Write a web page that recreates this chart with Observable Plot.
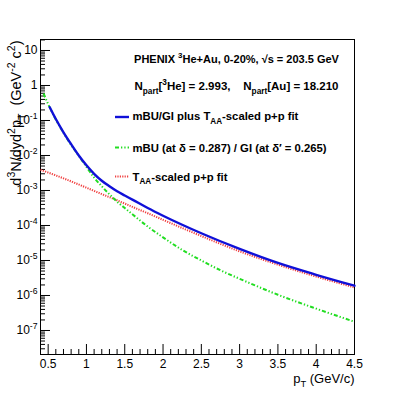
<!DOCTYPE html>
<html><head><meta charset="utf-8">
<script src="https://cdn.jsdelivr.net/npm/d3@7"></script>
<script src="https://cdn.jsdelivr.net/npm/@observablehq/plot@0.6"></script>
<style>
html,body{margin:0;padding:0;background:#fff;}
#chart{width:394px;height:394px;}
text{white-space:pre;}
</style></head><body><div id="chart"></div>
<script>
// ---- data ----
const greenPt = [0.44,0.5,0.6,0.7,0.8,0.9,1.0,1.1,1.2,1.3,1.4,1.5,1.6,1.8,2.0,2.25,2.5,2.75,3.0,3.5,4.0,4.5];
const greenVal = [5.9e-1,2.95e-1,1.07e-1,4.47e-2,2.0e-2,9.8e-3,4.7e-3,2.34e-3,1.32e-3,7.8e-4,4.8e-4,3.16e-4,2.09e-4,9.3e-5,4.57e-5,2.0e-5,1.0e-5,5.25e-6,3.0e-6,1.05e-6,4.2e-7,1.78e-7];

const redPt = [0.4,0.6,0.8,1.0,1.2,1.4,1.6,1.8,2.0,2.5,3.0,3.5,4.0,4.5];
const redVal = [3.9e-3,2.7e-3,1.82e-3,1.2e-3,7.9e-4,5.25e-4,3.4e-4,2.24e-4,1.45e-4,5.0e-5,1.82e-5,7.6e-6,3.47e-6,1.7e-6];

const bluePt = [0.52,0.6,0.7,0.8,0.9,1.0,1.1,1.2,1.3,1.4,1.5,1.6,1.8,2.0,2.5,3.0,3.5,4.0,4.5];
const blueVal = [2.4e-1,1.1e-1,4.6e-2,2.1e-2,1.0e-2,5.25e-3,3.0e-3,1.9e-3,1.32e-3,9.5e-4,7.2e-4,5.5e-4,3.16e-4,1.9e-4,6.0e-5,2.14e-5,8.5e-6,3.9e-6,1.9e-6];

const xMajorTicks = [0.5,1,1.5,2,2.5,3,3.5,4,4.5];
const yMajorTicks = [1e-7,1e-6,1e-5,1e-4,1e-3,1e-2,1e-1,1,10];

const seriesNames = ["mBU/GI plus T_{AA}-scaled p+p fit","mBU (at \u03B4 = 0.287) / GI (at \u03B4\u2032 = 0.265)","T_{AA}-scaled p+p fit"];
const titleLine1 = "PHENIX ^{3}He+Au, 0-20%, \u221As = 203.5 GeV";
const titleLine2 = "N_{part}[^{3}He] = 2.993,    N_{part}[Au] = 18.210";
const yLabel = "d^{3}N/dyd^{2}p_{T}  (GeV^{-2} c^{2})";
const xLabel = "p_{T} (GeV/c)";

// ---- build tables ----
const blue = bluePt.map((x,i)=>({x, y: blueVal[i]}));
const green = greenPt.map((x,i)=>({x, y: greenVal[i]}));
const red = redPt.map((x,i)=>({x, y: redVal[i]}));
const xMinorTicks = d3.range(4,46).map(v=>v/10).filter(v=>!xMajorTicks.some(m=>Math.abs(m-v)<1e-9));
const yMinorTicks = [];
for (let e=-8; e<=1; e++) for (let k=2; k<=9; k++) { const v = k*Math.pow(10,e); if (v>2.06e-8 && v<20.6) yMinorTicks.push(v); }

const W=394, H=394, ML=40, MR=40, MT=39, MB=40;
const PW = W-ML-MR, PH = H-MT-MB;
const BLUE="#1010d8", GREEN="#22dd22", RED="#f04040";
const DASH_GREEN="4,2,1.3,2,1.3,2", DASH_RED="1.2,1.2";
const FONT="'Liberation Sans', Arial, Helvetica, sans-serif";

function yfmt(d){ const e=Math.round(Math.log10(d)); if(e===0) return "1"; if(e===1) return "10"; return "10^{"+e+"}"; }

const chart = Plot.plot({
  width: W, height: H,
  marginLeft: ML, marginRight: MR, marginTop: MT, marginBottom: MB,
  style: {fontFamily: FONT, background: "#fff", overflow: "visible", color:"#000"},
  x: {domain: [0.4, 4.5]},
  y: {type: "log", domain: [2.06e-8, 20.6]},
  marks: [
    Plot.frame({stroke:"#000", strokeWidth:1}),
    Plot.ruleX(xMajorTicks, {x: d=>d, insetTop: PH-10, stroke:"#000"}),
    Plot.ruleX(xMinorTicks, {x: d=>d, insetTop: PH-5, stroke:"#000"}),
    Plot.ruleY(yMajorTicks, {y: d=>d, insetRight: PW-10, stroke:"#000"}),
    Plot.ruleY(yMinorTicks, {y: d=>d, insetRight: PW-5, stroke:"#000"}),
    Plot.axisX(xMajorTicks, {tickSize:0, tickPadding:5, fontSize:12, tickFormat: d=>String(d), label:null}),
    Plot.axisY(yMajorTicks, {tickSize:0, tickPadding:3, fontSize:12, tickFormat: yfmt, label:null}),
    Plot.line(red, {x:"x", y:"y", stroke:RED, strokeWidth:2, strokeDasharray:DASH_RED, strokeLinecap:"butt", curve:"monotone-x"}),
    Plot.line(green, {x:"x", y:"y", stroke:GREEN, strokeWidth:2, strokeDasharray:DASH_GREEN, strokeLinecap:"butt", curve:"monotone-x"}),
    Plot.line(blue, {x:"x", y:"y", stroke:BLUE, strokeWidth:2.4, curve:"monotone-x"}),
    Plot.text([titleLine1], {frameAnchor:"top-left", dx:196, dy:20, text:d=>d, textAnchor:"middle", lineAnchor:"middle", fontSize:11, fontWeight:"bold"}),
    Plot.text([titleLine2], {frameAnchor:"top-left", dx:196, dy:47, text:d=>d, textAnchor:"middle", lineAnchor:"middle", fontSize:11.5, fontWeight:"bold"}),
    Plot.text([seriesNames[0]], {frameAnchor:"top-left", dx:92, dy:77, text:d=>d, textAnchor:"start", lineAnchor:"middle", fontSize:11.3, fontWeight:"bold"}),
    Plot.text([seriesNames[1]], {frameAnchor:"top-left", dx:92, dy:108.5, text:d=>d, textAnchor:"start", lineAnchor:"middle", fontSize:11.3, fontWeight:"bold"}),
    Plot.text([seriesNames[2]], {frameAnchor:"top-left", dx:92, dy:137.5, text:d=>d, textAnchor:"start", lineAnchor:"middle", fontSize:11.3, fontWeight:"bold"}),
    Plot.text([xLabel], {frameAnchor:"bottom-right", dx:0, dy:24, text:d=>d, textAnchor:"end", lineAnchor:"middle", fontSize:13}),
    Plot.text([yLabel], {frameAnchor:"top-left", dx:-24, dy:1, rotate:-90, text:d=>d, textAnchor:"end", lineAnchor:"middle", fontSize:14.5})
  ]
});
document.getElementById("chart").appendChild(chart);

// ---- rich text: ^{...} superscript, _{...} subscript ----
function rich(el){
  const s = el.textContent;
  if (!/[\^_]\{/.test(s)) return;
  const fs = parseFloat(getComputedStyle(el).fontSize) || 12;
  while (el.firstChild) el.removeChild(el.firstChild);
  const parts = s.split(/(\^\{[^}]*\}|_\{[^}]*\})/).filter(p=>p.length);
  let cur = 0;
  for (const p of parts) {
    let target = 0, txt = p, small = false;
    if (p.startsWith("^{")) { target = -0.42*fs; txt = p.slice(2,-1); small = true; }
    else if (p.startsWith("_{")) { target = 0.32*fs; txt = p.slice(2,-1); small = true; }
    const t = document.createElementNS("http://www.w3.org/2000/svg","tspan");
    t.textContent = txt;
    if (Math.abs(target-cur) > 1e-6) t.setAttribute("dy", (target-cur).toFixed(2));
    if (small) t.setAttribute("font-size", (0.72*fs).toFixed(2));
    el.appendChild(t);
    cur = target;
  }
}
chart.querySelectorAll("text").forEach(rich);

// ---- legend swatches ----
const svg = d3.select(chart);
const sw = [{y:117, c:BLUE, w:2.4, d:null},{y:147.5, c:GREEN, w:2, d:DASH_GREEN},{y:176.5, c:RED, w:2, d:DASH_RED}];
sw.forEach(s=>{
  const l = svg.append("line").attr("x1",115).attr("x2",129).attr("y1",s.y).attr("y2",s.y)
    .attr("stroke",s.c).attr("stroke-width",s.w);
  if (s.d) l.attr("stroke-dasharray", s.d);
});
</script></body></html>
